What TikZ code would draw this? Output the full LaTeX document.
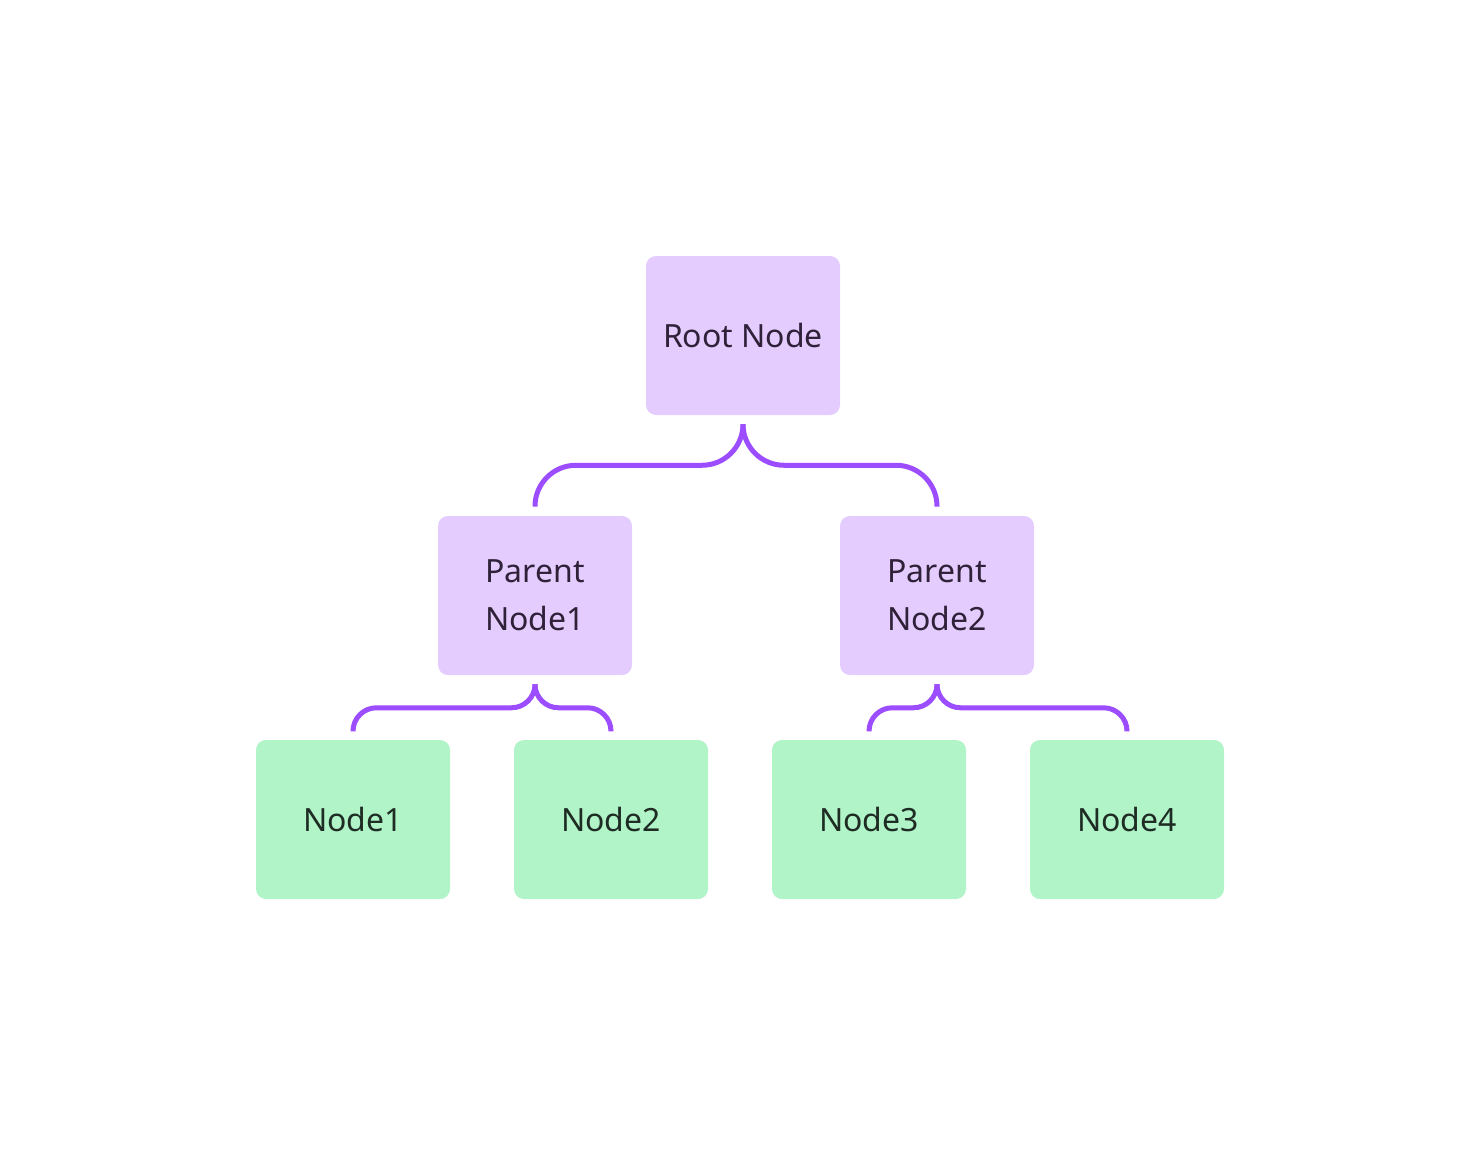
\documentclass[tikz,border=0pt]{standalone}
\usepackage{fontspec}
\setmainfont{Noto Sans}
\usetikzlibrary{calc}
\definecolor{lilac}{RGB}{229,204,255}
\definecolor{mint}{RGB}{176,244,200}
\definecolor{violet}{RGB}{155,77,255}
\definecolor{inkp}{RGB}{46,33,56}
\definecolor{inkg}{RGB}{30,44,36}
\tikzset{
  box/.style={rounded corners=7.5pt,minimum width=145.5pt,minimum height=119.25pt,
    align=center,font=\fontsize{24}{36}\selectfont,inner sep=0pt},
  upper/.style={box,fill=lilac,text=inkp},
  leaf/.style={box,fill=mint,text=inkg},
  brace/.style={violet,line width=3.75pt}
}
\begin{document}
\begin{tikzpicture}[x=0.75pt,y=-0.75pt]
\useasboundingbox (0,0) rectangle (1481,1156);
      \node[upper] (root) at (743,335.5) {Root Node};
      \node[upper] (p1) at (535,595.5) {Parent\\Node1};
      \node[upper] (p2) at (937,595.5) {Parent\\Node2};
      \node[leaf] (n1) at (353,819.5) {Node1};
      \node[leaf] (n2) at (611,819.5) {Node2};
      \node[leaf] (n3) at (869,819.5) {Node3};
      \node[leaf] (n4) at (1127,819.5) {Node4};
      \draw[brace,rounded corners=30.75pt] ($(root.south)+(0,9)$) -- ++(0,41) -| ($(p1.north)+(0,-9)$);
      \draw[brace,rounded corners=30.75pt] ($(root.south)+(0,9)$) -- ++(0,41) -| ($(p2.north)+(0,-9)$);
      \draw[brace,rounded corners=17.6pt] ($(p1.south)+(0,9)$) -- ++(0,23.5) -| ($(n1.north)+(0,-9)$);
      \draw[brace,rounded corners=17.6pt] ($(p1.south)+(0,9)$) -- ++(0,23.5) -| ($(n2.north)+(0,-9)$);
      \draw[brace,rounded corners=17.6pt] ($(p2.south)+(0,9)$) -- ++(0,23.5) -| ($(n3.north)+(0,-9)$);
      \draw[brace,rounded corners=17.6pt] ($(p2.south)+(0,9)$) -- ++(0,23.5) -| ($(n4.north)+(0,-9)$);
\end{tikzpicture}
\end{document}
